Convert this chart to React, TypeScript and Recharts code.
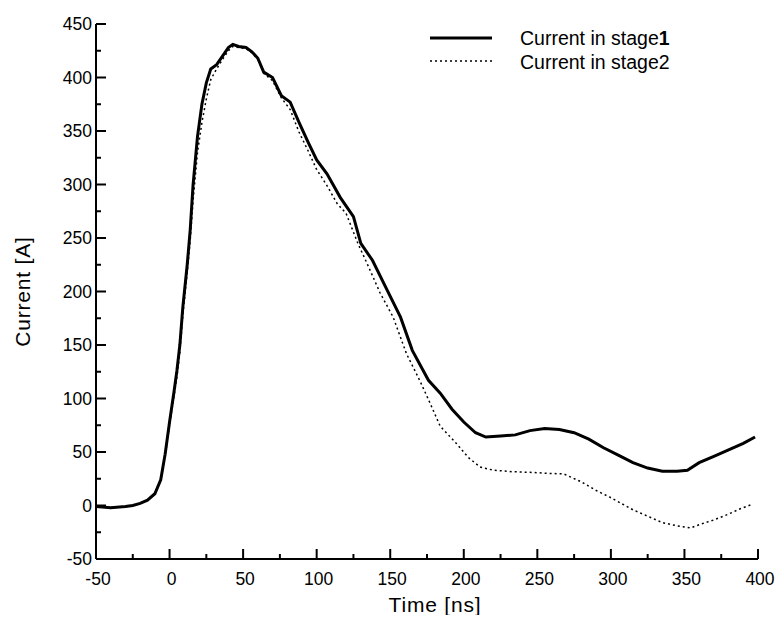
import { Legend, Line, LineChart, XAxis, YAxis } from "recharts";

// --- Data ---

const stage1Time = [
  -50, -40, -30, -25, -20, -15, -10, -6, -3, 0, 3, 5, 7, 9, 12, 14, 16, 19, 22,
  25, 28, 32, 36, 40, 43, 47, 52, 56, 60, 64, 70, 76, 82, 88, 94, 100, 107, 116,
  125, 130, 138, 148, 157, 165, 176, 184, 192, 200, 208, 215, 225, 235, 245,
  255, 265, 275, 285, 295, 305, 315, 325, 335, 345, 352, 360, 370, 380, 390, 398,
];
const stage1Current = [
  -1, -2, -1, 0, 2, 5, 11, 24, 48, 78, 106, 126, 150, 185, 225, 257, 300, 345,
  375, 395, 408, 412, 420, 428, 431, 429, 428, 424, 418, 405, 400, 383, 377, 358,
  340, 323, 310, 288, 270, 245, 229, 201, 176, 145, 117, 105, 90, 78, 68, 64, 65,
  66, 70, 72, 71, 68, 62, 54, 47, 40, 35, 32, 32, 33, 40, 46, 52, 58, 64,
];

const stage2Time = [
  -50, -40, -30, -25, -20, -15, -10, -6, -3, 0, 3, 5, 7, 9, 12, 14, 16, 19, 22,
  25, 28, 32, 36, 40, 43, 47, 52, 56, 60, 64, 70, 76, 82, 88, 94, 100, 107, 114,
  120, 128, 134, 143, 152, 161, 170, 176, 184, 195, 203, 211, 220, 233, 245, 258,
  268, 280, 290, 299, 315, 325, 335, 345, 354, 362, 370, 380, 388, 395,
];
const stage2Current = [
  -1, -2, -1, 0, 2, 5, 11, 24, 46, 76, 102, 120, 143, 178, 218, 247, 285, 330,
  358, 380, 398, 408, 417, 425, 429, 428, 427, 423, 417, 404, 397, 381, 370, 349,
  332, 314, 299, 282, 273, 245, 227, 199, 176, 142, 117, 99, 74, 58, 45, 36, 33,
  31.6, 31, 30, 29.5, 22, 14, 8, -4, -10, -16, -19, -21, -17, -13.5, -8, -3, 0.5,
];

const xTicks = [
  -50, -25, 0, 25, 50, 75, 100, 125, 150, 175, 200, 225, 250, 275, 300, 325,
  350, 375, 400,
];
const yTicks = [
  -50, -25, 0, 25, 50, 75, 100, 125, 150, 175, 200, 225, 250, 275, 300, 325,
  350, 375, 400, 425, 450,
];

const stage1Data = stage1Time.map((t, i) => ({ t, current: stage1Current[i] }));
const stage2Data = stage2Time.map((t, i) => ({ t, current: stage2Current[i] }));

const FONT = "'Liberation Sans', Arial, Helvetica, sans-serif";

// --- Ticks: drawn inward, labels only on the majors ---

const XTick = ({ x, y, payload }: any) => {
  const major = payload.value % 50 === 0;
  return (
    <g>
      <line x1={x} y1={y} x2={x} y2={y - (major ? 10 : 5)} stroke="#000" strokeWidth={2} />
      {major && (
        <text x={x + 2} y={y + 26} textAnchor="middle" fontSize={17.5} fontFamily={FONT} fill="#000">
          {payload.value}
        </text>
      )}
    </g>
  );
};

const YTick = ({ x, y, payload }: any) => {
  const major = payload.value % 50 === 0;
  return (
    <g>
      <line x1={x} y1={y} x2={x + (major ? 10 : 5)} y2={y} stroke="#000" strokeWidth={2} />
      {major && (
        <text x={x - 4} y={y + 6} textAnchor="end" fontSize={17.5} fontFamily={FONT} fill="#000">
          {payload.value}
        </text>
      )}
    </g>
  );
};

const LegendBox = () => (
  <svg width={340} height={56} style={{ display: "block" }}>
    <line x1={0} y1={16} x2={62} y2={16} stroke="#000" strokeWidth={3} />
    <text x={90} y={23} fontSize={19.5} fontFamily={FONT} fill="#000">
      Current in stage<tspan fontWeight="bold">1</tspan>
    </text>
    <line x1={0} y1={39} x2={62} y2={39} stroke="#000" strokeWidth={1.5} strokeDasharray="2 3" />
    <text x={90} y={47} fontSize={19.5} fontFamily={FONT} fill="#000">
      Current in stage2
    </text>
  </svg>
);

export default function App() {
  return (
    <LineChart
      width={770}
      height={607}
      margin={{ top: 16, right: 20, left: 0, bottom: 0 }}
      style={{ fontFamily: FONT, background: "#fff" }}
    >
      <XAxis
        type="number"
        dataKey="t"
        domain={[-50, 400]}
        ticks={xTicks}
        allowDataOverflow
        height={56}
        axisLine={{ stroke: "#000", strokeWidth: 2 }}
        tickLine={false}
        tickSize={0}
        tickMargin={0}
        tick={<XTick />}
        interval={0}
        label={(props: any) => {
          const vb = props.viewBox;
          return (
            <text x={vb.x + vb.width / 2 + 8} y={vb.y + 53} textAnchor="middle" fontSize={21} letterSpacing={0.8} fontFamily={FONT} fill="#000">
              Time [ns]
            </text>
          );
        }}
      />
      <YAxis
        type="number"
        domain={[-50, 450]}
        ticks={yTicks}
        allowDataOverflow
        width={88}
        axisLine={{ stroke: "#000", strokeWidth: 2 }}
        tickLine={false}
        tickSize={0}
        tickMargin={0}
        tick={<YTick />}
        interval={0}
        label={(props: any) => {
          const vb = props.viewBox;
          const cx = vb.x + 14;
          const cy = vb.y + vb.height / 2;
          return (
            <text x={cx} y={cy} transform={`rotate(-90 ${cx} ${cy})`} textAnchor="middle" dominantBaseline="central" fontSize={21} letterSpacing={0.8} fontFamily={FONT} fill="#000">
              Current [A]
            </text>
          );
        }}
      />
      <Legend
        layout="horizontal"
        verticalAlign="middle"
        align="center"
        content={<LegendBox />}
        wrapperStyle={{ position: "absolute", top: 14, left: 422, width: 340, height: 56 }}
      />
      <Line
        data={stage1Data}
        dataKey="current"
        type="linear"
        stroke="#000"
        strokeWidth={3}
        dot={false}
        isAnimationActive={false}
        legendType="none"
      />
      <Line
        data={stage2Data}
        dataKey="current"
        type="linear"
        stroke="#000"
        strokeWidth={1.5}
        strokeDasharray="2 3"
        dot={false}
        isAnimationActive={false}
        legendType="none"
      />
    </LineChart>
  );
}
